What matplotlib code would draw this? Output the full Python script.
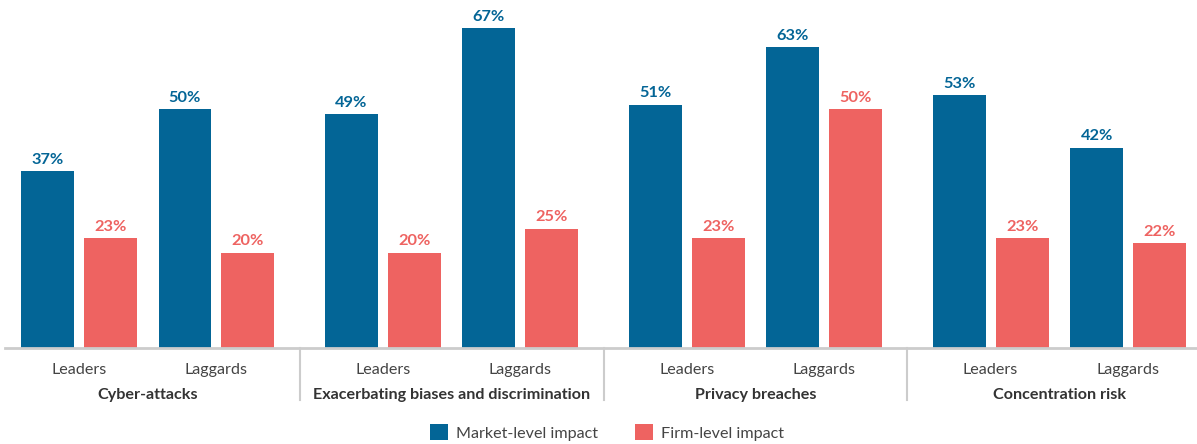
import numpy as np
import matplotlib.pyplot as plt
from matplotlib.patches import Patch
from matplotlib.transforms import blended_transform_factory

plt.rcParams["font.family"] = ["Lato", "DejaVu Sans"]

# 数据
groups = ["Cyber-attacks", "Exacerbating biases and discrimination",
          "Privacy breaches", "Concentration risk"]
segments = ["Leaders", "Laggards"]
market_level = [37, 50, 49, 67, 51, 63, 53, 42]
firm_level = [23, 20, 20, 25, 23, 50, 23, 22]
series_names = ["Market-level impact", "Firm-level impact"]

BLUE = "#036596"
RED = "#EE6361"
TEXT = "#444444"
AXIS = "#CCCCCC"

group_step = 2.21
bar_offset = 0.229
bar_width = 0.385

fig = plt.figure(figsize=(11.97, 4.44), dpi=100)
ax = fig.add_axes([5 / 1197, 96 / 444, 1192 / 1197, 348 / 444])

# 每个子类别的中心位置
centers = np.array([g * group_step + s for g in range(len(groups))
                    for s in range(len(segments))])

ax.bar(centers - bar_offset, market_level, width=bar_width, color=BLUE)
ax.bar(centers + bar_offset, firm_level, width=bar_width, color=RED)

for x, v in zip(centers - bar_offset, market_level):
    ax.text(x, v + 0.9, f"{v}%", ha="center", va="bottom",
            fontsize=11.8, fontweight="bold", color=BLUE)
for x, v in zip(centers + bar_offset, firm_level):
    ax.text(x, v + 0.9, f"{v}%", ha="center", va="bottom",
            fontsize=11.8, fontweight="bold", color=RED)

ax.set_xlim(-0.538, 8.131)
ax.set_ylim(0, 72.9)

# 边框与刻度
for name, spine in ax.spines.items():
    spine.set_visible(name == "bottom")
ax.spines["bottom"].set_color(AXIS)
ax.spines["bottom"].set_linewidth(2)
ax.set_yticks([])
ax.set_xticks([])

trans = blended_transform_factory(ax.transData, ax.transAxes)

# 子类别与分组标签
for x, label in zip(centers, segments * len(groups)):
    ax.text(x, -0.062, label, transform=trans, ha="center", va="center",
            fontsize=11.6, color=TEXT)
for g, name in enumerate(groups):
    ax.text(g * group_step + 0.5, -0.135, name, transform=trans,
            ha="center", va="center", fontsize=11.6, fontweight="bold",
            color="#333333")

# 分组之间的分隔线
for g in range(len(groups) - 1):
    sx = g * group_step + (1 + group_step) / 2
    ax.plot([sx, sx], [0, -0.15], transform=trans, color=AXIS,
            linewidth=1.5, clip_on=False)

handles = [Patch(facecolor=BLUE), Patch(facecolor=RED)]
fig.legend(handles, series_names, loc="lower center", ncol=2,
           bbox_to_anchor=(0.507, -0.025), frameon=False, fontsize=11.6,
           handlelength=1.1, handleheight=1.1, handletextpad=0.5,
           columnspacing=2.3, labelcolor=TEXT)

fig.savefig("out.png", dpi=100)
